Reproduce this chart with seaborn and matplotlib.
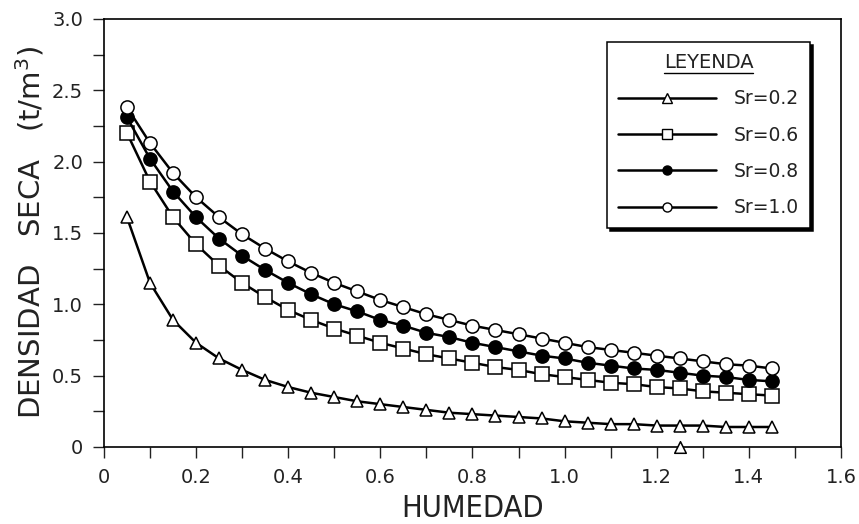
import seaborn as sns
import matplotlib.pyplot as plt
import matplotlib.font_manager as fm
from matplotlib.ticker import MultipleLocator, FuncFormatter
from matplotlib.lines import Line2D

# data
humedad = [0.05, 0.10, 0.15, 0.20, 0.25, 0.30, 0.35, 0.40, 0.45, 0.50,
           0.55, 0.60, 0.65, 0.70, 0.75, 0.80, 0.85, 0.90, 0.95, 1.00,
           1.05, 1.10, 1.15, 1.20, 1.25, 1.30, 1.35, 1.40, 1.45]
sr_02 = [1.61, 1.15, 0.89, 0.73, 0.62, 0.54, 0.47, 0.42, 0.38, 0.35,
         0.32, 0.30, 0.28, 0.26, 0.24, 0.23, 0.22, 0.21, 0.20, 0.18,
         0.17, 0.16, 0.16, 0.15, 0.15, 0.15, 0.14, 0.14, 0.14]
sr_06 = [2.20, 1.86, 1.61, 1.42, 1.27, 1.15, 1.05, 0.96, 0.89, 0.83,
         0.78, 0.73, 0.69, 0.65, 0.62, 0.59, 0.56, 0.54, 0.51, 0.49,
         0.47, 0.45, 0.44, 0.42, 0.41, 0.39, 0.38, 0.37, 0.36]
sr_08 = [2.31, 2.02, 1.79, 1.61, 1.46, 1.34, 1.24, 1.15, 1.07, 1.00,
         0.95, 0.89, 0.85, 0.80, 0.77, 0.73, 0.70, 0.67, 0.64, 0.62,
         0.59, 0.57, 0.55, 0.54, 0.52, 0.50, 0.49, 0.47, 0.46]
sr_10 = [2.38, 2.13, 1.92, 1.75, 1.61, 1.49, 1.39, 1.30, 1.22, 1.15,
         1.09, 1.03, 0.98, 0.93, 0.89, 0.85, 0.82, 0.79, 0.76, 0.73,
         0.70, 0.68, 0.66, 0.64, 0.62, 0.60, 0.58, 0.57, 0.55]
# stray point on the axis
extra_x = [1.25]
extra_y = [0.0]

labels = ['Sr=0.2', 'Sr=0.6', 'Sr=0.8', 'Sr=1.0']
series = [sr_02, sr_06, sr_08, sr_10]
markers = ['^', 's', 'o', 'o']
faces = ['white', 'white', 'black', 'white']
sizes = [9, 9.5, 9.5, 9.5]
txt = '#222222'

sns.set_theme(style='ticks')
plt.rcParams['font.family'] = ['DejaVu Sans']

# condensed DejaVu for the x label if it is installed
narrow = fm.FontProperties(family='DejaVu Sans', stretch='condensed')
has_narrow = 'Condensed' in fm.findfont(narrow)
xlab_size = 22 if has_narrow else 18.5

fig = plt.figure(figsize=(8.59, 5.24), dpi=100)
ax = fig.add_axes([0.121, 0.147, 0.858, 0.817])

for lab, vals, m, fc, ms in zip(labels, series, markers, faces, sizes):
    sns.lineplot(x=humedad, y=vals, ax=ax, color='black', lw=1.8,
                 marker=m, markersize=ms, markerfacecolor=fc,
                 markeredgecolor='black', markeredgewidth=1.1,
                 label=lab, legend=False)

sns.scatterplot(x=extra_x, y=extra_y, ax=ax, marker='^', s=70,
                facecolor='white', edgecolor='black', linewidth=1.1,
                clip_on=False, zorder=5, legend=False)

ax.set_xlim(0, 1.6)
ax.set_ylim(0, 3.0)
ax.xaxis.set_major_locator(MultipleLocator(0.2))
ax.xaxis.set_minor_locator(MultipleLocator(0.1))
ax.yaxis.set_major_locator(MultipleLocator(0.5))
ax.yaxis.set_minor_locator(MultipleLocator(0.25))
fmt = FuncFormatter(lambda v, p: '0' if abs(v) < 1e-9 else f'{v:.1f}')
ax.xaxis.set_major_formatter(fmt)
ax.yaxis.set_major_formatter(fmt)
ax.tick_params(which='both', direction='out', length=8, width=1.0,
               color='#222222', labelsize=14, labelcolor=txt, pad=7)

for s in ax.spines.values():
    s.set_visible(True)
    s.set_color('black')
    s.set_linewidth(1.2)

ax.set_xlabel('HUMEDAD', color=txt, labelpad=5, fontproperties=narrow)
ax.xaxis.label.set_fontsize(xlab_size)
ax.set_ylabel('DENSIDAD   SECA   (t/m$^3$)', fontsize=21, color=txt)
ax.yaxis.set_label_coords(-0.078, 0.5)

handles = [Line2D([], [], color='black', lw=1.8, marker=m, markersize=6.5,
                  markerfacecolor=fc, markeredgecolor='black', markeredgewidth=1.0)
           for m, fc in zip(markers, faces)]
leg = ax.legend(handles, labels, title='LEYENDA', loc='upper left',
                bbox_to_anchor=(0.6825, 0.946), borderaxespad=0,
                fontsize=13.5, title_fontsize=14, handlelength=5.2,
                handletextpad=0.96, labelspacing=0.92, borderpad=0.6,
                fancybox=False, framealpha=1, edgecolor='black',
                shadow={'color': 'black', 'alpha': 1})
leg.get_frame().set_linewidth(1.1)
for t in leg.get_texts() + [leg.get_title()]:
    t.set_color(txt)

# underline the legend title
fig.canvas.draw()
bb = leg.get_title().get_window_extent()
inv = fig.transFigure.inverted()
(x0, y0), (x1, _) = inv.transform([(bb.x0, bb.y0 - 1), (bb.x1, bb.y0 - 1)])
fig.add_artist(Line2D([x0, x1], [y0, y0], color='black', lw=1.0))

fig.savefig('out.png', dpi=100)
